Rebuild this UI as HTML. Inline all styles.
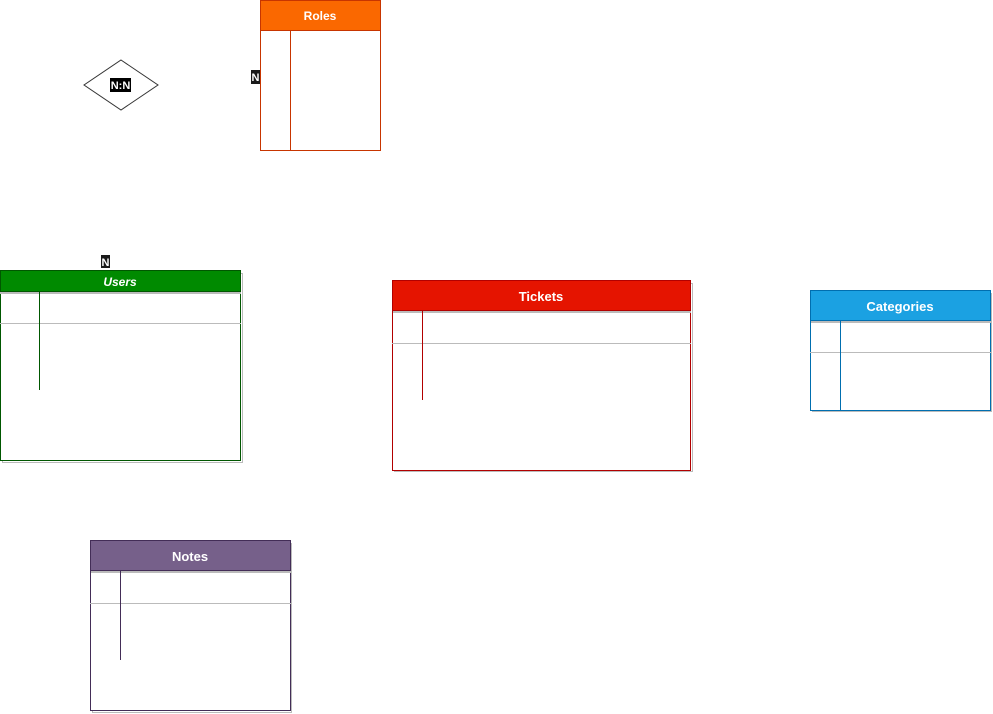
<!DOCTYPE html>
<html><head><meta charset="utf-8"><style>
html,body{margin:0;padding:0;background:#fff;width:993px;height:714px;overflow:hidden}
text{font-family:"Liberation Sans",sans-serif}
</style></head><body>
<svg width="993" height="714" xmlns="http://www.w3.org/2000/svg">
<!-- Roles -->
<rect x="260.5" y="0.5" width="120" height="150" fill="#fff" stroke="#c73500"/>
<rect x="260.5" y="0.5" width="120" height="30" fill="#fa6800" stroke="#c73500"/>
<text x="320" y="20" fill="#fff" font-size="12" font-weight="bold" text-anchor="middle">Roles</text>
<line x1="290.5" y1="30" x2="290.5" y2="150" stroke="#c73500"/>
<!-- diamond -->
<polygon points="121,60 158,85 121,110 84,85" fill="#fff" stroke="#333"/>
<rect x="110" y="78" width="21" height="14" fill="#000"/>
<text x="120.5" y="89" fill="#fff" font-size="11" font-weight="bold" text-anchor="middle">N:N</text>
<rect x="251" y="70" width="9" height="14" fill="#1a1a1a"/>
<text x="255.5" y="81" fill="#fff" font-size="11" font-weight="bold" text-anchor="middle">N</text>
<rect x="101" y="255" width="9" height="13" fill="#1a1a1a"/>
<text x="105.5" y="266" fill="#fff" font-size="11" font-weight="bold" text-anchor="middle">N</text>
<!-- Users -->
<rect x="2.5" y="273.5" width="240" height="189" fill="none" stroke="#bbb"/>
<rect x="0.5" y="270.5" width="240" height="190" fill="#fff" stroke="#005700"/>
<rect x="0.5" y="270.5" width="240" height="21" fill="#008a00" stroke="#005700"/>
<line x1="0" y1="293" x2="241" y2="293" stroke="#bbb" stroke-width="2"/>
<text x="120" y="286" fill="#fff" font-size="12" font-weight="bold" font-style="italic" text-anchor="middle">Users</text>
<line x1="0" y1="323.5" x2="241" y2="323.5" stroke="#bbb"/>
<line x1="39.5" y1="291" x2="39.5" y2="390" stroke="#005700"/>
<!-- Tickets -->
<rect x="394.5" y="283.5" width="298" height="188" fill="none" stroke="#bbb"/>
<rect x="392.5" y="280.5" width="298" height="190" fill="#fff" stroke="#b20000"/>
<rect x="392.5" y="280.5" width="298" height="30" fill="#e51400" stroke="#b20000"/>
<line x1="393" y1="312" x2="691" y2="312" stroke="#bbb" stroke-width="2"/>
<text x="541" y="301" fill="#fff" font-size="13" font-weight="bold" text-anchor="middle">Tickets</text>
<line x1="392" y1="343.5" x2="691" y2="343.5" stroke="#bbb"/>
<line x1="422.5" y1="311" x2="422.5" y2="400" stroke="#b20000"/>
<!-- Categories -->
<rect x="812.5" y="293.5" width="179" height="118" fill="none" stroke="#bbb"/>
<rect x="810.5" y="290.5" width="180" height="120" fill="#fff" stroke="#006eaf"/>
<rect x="810.5" y="290.5" width="180" height="30" fill="#1ba1e2" stroke="#006eaf"/>
<line x1="811" y1="322" x2="991" y2="322" stroke="#bbb" stroke-width="2"/>
<text x="900" y="311" fill="#fff" font-size="13" font-weight="bold" text-anchor="middle">Categories</text>
<line x1="810" y1="352.5" x2="991" y2="352.5" stroke="#bbb"/>
<line x1="840.5" y1="320" x2="840.5" y2="410" stroke="#006eaf"/>
<!-- Notes -->
<rect x="92.5" y="543.5" width="199" height="169" fill="none" stroke="#bbb"/>
<rect x="90.5" y="540.5" width="200" height="170" fill="#fff" stroke="#432d57"/>
<rect x="90.5" y="540.5" width="200" height="30" fill="#76608a" stroke="#432d57"/>
<line x1="91" y1="572" x2="291" y2="572" stroke="#bbb" stroke-width="2"/>
<text x="190" y="561" fill="#fff" font-size="13" font-weight="bold" text-anchor="middle">Notes</text>
<line x1="90" y1="603.5" x2="291" y2="603.5" stroke="#bbb"/>
<line x1="120.5" y1="571" x2="120.5" y2="660" stroke="#432d57"/>
</svg>
</body></html>
